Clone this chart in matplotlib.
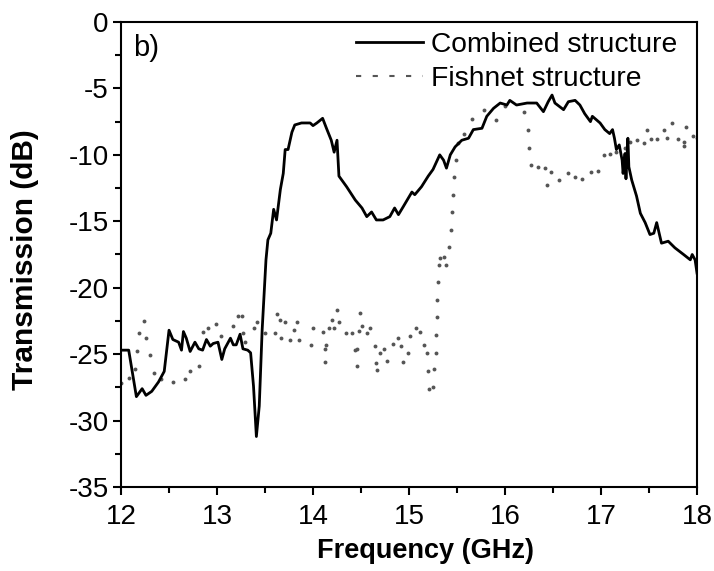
import matplotlib
matplotlib.use("Agg")
import matplotlib.pyplot as plt
import matplotlib.lines as mlines
from matplotlib.ticker import MultipleLocator

plt.rcParams['font.family'] = ['Liberation Sans', 'DejaVu Sans']
plt.rcParams['axes.unicode_minus'] = False

# Combined structure (solid curve)
combined_freq = [
    12.00, 12.08, 12.16, 12.22, 12.26, 12.32, 12.39, 12.45, 12.48, 12.50,
    12.54, 12.60, 12.63, 12.65, 12.68, 12.72, 12.77, 12.81, 12.85, 12.89,
    12.93, 12.96, 13.01, 13.05, 13.08, 13.14, 13.17, 13.20, 13.24, 13.27,
    13.32, 13.35, 13.38, 13.41, 13.44, 13.47, 13.49, 13.51, 13.53, 13.56,
    13.59, 13.62, 13.66, 13.69, 13.71, 13.74, 13.78, 13.81, 13.88, 13.97,
    14.00, 14.04, 14.10, 14.14, 14.19, 14.22, 14.25, 14.27, 14.35, 14.44,
    14.51, 14.56, 14.61, 14.66, 14.73, 14.80, 14.85, 14.89, 14.94, 15.03,
    15.06, 15.13, 15.20, 15.25, 15.32, 15.36, 15.39, 15.43, 15.48, 15.55,
    15.62, 15.67, 15.76, 15.81, 15.88, 15.95, 16.02, 16.05, 16.12, 16.23,
    16.33, 16.40, 16.45, 16.49, 16.52, 16.61, 16.66, 16.73, 16.78, 16.83,
    16.89, 16.91, 16.99, 17.04, 17.09, 17.12, 17.14, 17.16, 17.19, 17.22,
    17.23, 17.25, 17.26, 17.28, 17.29, 17.32, 17.37, 17.41, 17.46, 17.51,
    17.55, 17.58, 17.63, 17.70, 17.77, 17.86, 17.93, 17.95, 17.98, 18.00,
]
combined_db = [
    -24.7, -24.7, -28.2, -27.6, -28.1, -27.8, -27.1, -26.3, -24.4, -23.2,
    -23.9, -24.1, -24.7, -23.3, -23.8, -24.8, -24.1, -24.6, -24.7, -23.9,
    -24.4, -24.2, -24.1, -25.4, -24.6, -23.8, -24.3, -24.3, -23.5, -24.6,
    -24.7, -24.9, -27.4, -31.2, -28.9, -23.2, -20.5, -17.9, -16.4, -15.9,
    -14.1, -14.9, -12.6, -11.4, -9.6, -9.6, -8.3, -7.75, -7.6, -7.6,
    -7.8, -7.6, -7.25, -8.0, -8.9, -9.8, -8.9, -11.6, -12.4, -13.4,
    -14.0, -14.65, -14.3, -14.9, -14.9, -14.65, -14.0, -14.5, -13.9, -12.8,
    -13.0, -12.4, -11.6, -11.1, -10.0, -10.4, -11.0, -10.0, -9.4, -8.9,
    -8.75, -8.1, -8.0, -7.1, -6.5, -6.1, -6.25, -5.9, -6.25, -6.1,
    -6.1, -6.75, -6.0, -5.5, -6.1, -6.6, -6.0, -5.9, -6.25, -6.9,
    -7.5, -7.1, -7.6, -8.1, -8.4, -8.1, -8.75, -9.6, -9.25, -10.4,
    -11.4, -9.9, -11.8, -8.75, -10.9, -11.9, -13.1, -14.4, -15.1, -16.0,
    -15.9, -15.1, -16.65, -16.5, -17.0, -17.5, -17.9, -17.5, -17.9, -18.9,
]

# Fishnet structure (dotted)
fishnet_freq = [
    12.00, 12.08, 12.15, 12.17, 12.19, 12.24, 12.26, 12.30, 12.34, 12.42,
    12.54, 12.67, 12.72, 12.81, 12.85, 12.91, 12.99, 13.04, 13.17, 13.22,
    13.26, 13.27, 13.29, 13.39, 13.42, 13.50, 13.60, 13.63, 13.66, 13.67,
    13.71, 13.76, 13.80, 13.83, 13.85, 13.98, 14.00, 14.10, 14.12, 14.13,
    14.14, 14.17, 14.20, 14.22, 14.25, 14.27, 14.34, 14.41, 14.44, 14.46,
    14.46, 14.48, 14.49, 14.51, 14.56, 14.59, 14.65, 14.66, 14.67, 14.70,
    14.74, 14.77, 14.83, 14.89, 14.92, 14.94, 14.99, 15.01, 15.07, 15.11,
    15.16, 15.19, 15.20, 15.21, 15.25, 15.26, 15.28, 15.28, 15.29, 15.29,
    15.30, 15.31, 15.32, 15.36, 15.39, 15.42, 15.44, 15.45, 15.46, 15.47,
    15.49, 15.51, 15.57, 15.66, 15.78, 15.91, 16.00, 16.20, 16.24, 16.25,
    16.27, 16.34, 16.42, 16.44, 16.48, 16.56, 16.66, 16.73, 16.80, 16.90,
    16.97, 17.03, 17.09, 17.16, 17.25, 17.30, 17.37, 17.45, 17.48, 17.52,
    17.58, 17.66, 17.69, 17.74, 17.80, 17.86, 17.86, 17.89, 17.96, 18.00,
]
fishnet_db = [
    -27.2, -26.8, -26.1, -24.8, -23.4, -22.5, -23.8, -25.1, -26.4, -26.9,
    -27.1, -26.9, -26.3, -25.9, -23.3, -23.0, -22.7, -23.6, -22.9, -22.1,
    -22.1, -23.4, -24.1, -23.0, -22.6, -23.4, -23.4, -22.0, -22.4, -23.8,
    -22.6, -23.9, -23.2, -22.55, -23.9, -24.3, -23.0, -23.3, -24.6, -25.6,
    -24.3, -23.0, -22.4, -23.0, -21.7, -22.55, -23.4, -23.4, -24.7, -24.6,
    -25.9, -23.25, -21.9, -22.9, -23.4, -23.0, -24.4, -25.7, -26.2, -24.9,
    -24.6, -25.5, -24.2, -23.75, -24.4, -25.6, -24.9, -23.6, -23.0, -23.3,
    -24.3, -24.9, -26.3, -27.6, -27.5, -26.1, -24.9, -23.55, -22.2, -20.9,
    -19.6, -18.3, -17.8, -17.7, -18.3, -16.9, -15.65, -14.3, -13.0, -11.7,
    -10.4, -9.1, -8.4, -7.3, -6.6, -7.4, -6.3, -6.8, -8.1, -9.5,
    -10.8, -10.9, -11.0, -12.3, -11.3, -11.9, -11.4, -11.7, -11.8, -11.3,
    -11.2, -10.0, -9.9, -9.8, -9.5, -9.0, -8.9, -9.1, -8.1, -8.8,
    -8.8, -8.1, -8.75, -7.6, -8.8, -9.0, -9.3, -7.9, -8.6, -8.75,
]

fig = plt.figure(figsize=(7.14, 5.71), dpi=100)
ax = fig.add_axes((0.1695, 0.1471, 0.8067, 0.8144))

gray = "#555555"
ax.plot(fishnet_freq, fishnet_db, linestyle="none", marker="o",
        markersize=2.8, markeredgewidth=0, color=gray)
ax.plot(combined_freq, combined_db, color="black", linewidth=2.0)

ax.set_xlim(12, 18)
ax.set_ylim(-35, 0)
ax.xaxis.set_major_locator(MultipleLocator(1))
ax.xaxis.set_minor_locator(MultipleLocator(0.5))
ax.yaxis.set_major_locator(MultipleLocator(5))
ax.yaxis.set_minor_locator(MultipleLocator(2.5))
ax.tick_params(which="both", direction="out", top=False, right=False,
               width=1.5, labelsize=20, colors="black")
ax.tick_params(which="major", length=6)
ax.tick_params(which="minor", length=4)
ax.tick_params(axis="x", pad=6)
ax.tick_params(axis="y", pad=3)
for spine in ax.spines.values():
    spine.set_linewidth(1.5)

ax.set_xlabel("Frequency (GHz)", fontsize=19.5, fontweight="bold")
ax.set_ylabel("Transmission (dB)", fontsize=21.5, fontweight="bold")
ax.xaxis.set_label_coords(0.528, -0.11)
ax.yaxis.set_label_coords(-0.142, 0.49)

ax.text(0.021, 0.975, "b)", transform=ax.transAxes, fontsize=21,
        ha="left", va="top")

solid_handle = mlines.Line2D([], [], color="black", linewidth=2.0)
dot_handle = mlines.Line2D([], [], color=gray, linewidth=1.5,
                           linestyle=(0, (2.5, 5.5)))
ax.legend([solid_handle, dot_handle],
          ["Combined structure", "Fishnet structure"],
          loc="upper right", bbox_to_anchor=(0.966, 0.978),
          frameon=False, fontsize=20.3, handlelength=2.35,
          handletextpad=0.3, labelspacing=0.26, borderpad=0,
          borderaxespad=0)

fig.savefig("out.png", dpi=100)
